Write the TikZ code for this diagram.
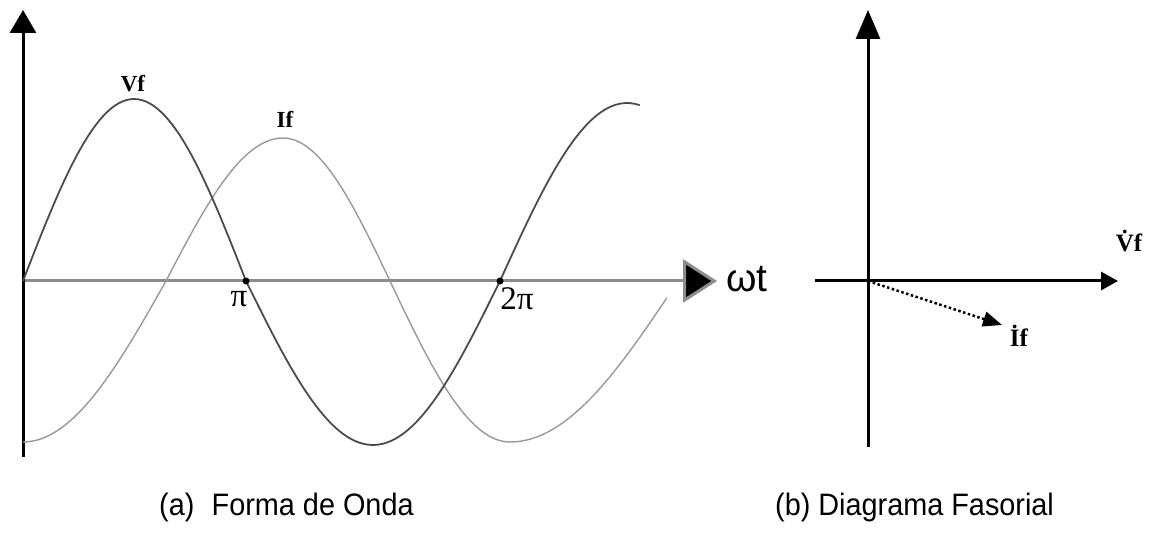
\documentclass[tikz,border=0pt]{standalone}
\usepackage{fontspec}
\setmainfont{Liberation Serif}
\newfontfamily\capfont{Liberation Sans}
\usetikzlibrary{arrows.meta}
\tikzset{
  axisblk/.style={line width=3pt, black},
  axisgray/.style={line width=3pt, black!45},
  vcurve/.style={line width=1.8pt, black!70},
  icurve/.style={line width=1.4pt, black!40},
  wlabel/.style={font=\fontsize{23}{23}\selectfont\bfseries, inner sep=0pt},
  plabel/.style={font=\fontsize{25}{25}\selectfont\bfseries, inner sep=0pt},
  pilabel/.style={font=\fontsize{33}{33}\selectfont, inner sep=0pt},
  caption/.style={font=\capfont\fontsize{31}{31}\selectfont, inner sep=0pt, xscale=0.93},
}
\begin{document}
\begin{tikzpicture}[x=1pt,y=-1pt]
\useasboundingbox (0,0) rectangle (1151,537);
% ---------- (a) waveform ----------
\coordinate (O) at (23,281);
\coordinate (ytop) at (23,10);
\coordinate (ybot) at (23,457);
\coordinate (xend) at (717,281);
\draw[axisgray, -{Triangle[length=34pt,width=43pt,fill=black]}] (O) -- (xend);
\draw[axisblk, -{Triangle[length=23pt,width=26pt]}] (ybot) -- (ytop);
% If curve
\draw[icurve]
  plot[domain=0:90,samples=30] ({23+143*\x/90},{281+161*cos(\x)})
  -- plot[domain=0:90,samples=30] ({166+117*\x/90},{281-143*sin(\x)})
  -- plot[domain=0:90,samples=30] ({283+107*\x/90},{281-143*cos(\x)})
  -- plot[domain=0:90,samples=30] ({390+120*\x/90},{281+161*sin(\x)})
  -- plot[domain=0:84,samples=30] ({510+168*\x/90},{281+161*cos(\x)});
% Vf curve
\draw[vcurve]
  plot[domain=0:90,samples=30] ({23+111*\x/90},{281-182*sin(\x)})
  -- plot[domain=0:90,samples=30] ({134+112*\x/90},{281-182*cos(\x)})
  -- plot[domain=0:90,samples=30] ({246+127*\x/90},{281+164*sin(\x)})
  -- plot[domain=0:90,samples=30] ({373+127*\x/90},{281+164*cos(\x)})
  -- plot[domain=0:99,samples=30] ({500+127*\x/90},{281-178*sin(\x)});
\coordinate (pi1) at (246,281);
\coordinate (pi2) at (500,281);
\fill (pi1) circle (3.5);
\fill (pi2) circle (3.5);
\node[pilabel] (lpi) at (239,299) {π};
\node[pilabel] (l2pi) at (517,299) {2π};
\node[wlabel] (lvf) at (133,84) {Vf};
\node[wlabel] (lif) at (285,119) {If};
\node[font=\capfont\fontsize{39}{39}\selectfont, inner sep=0pt, anchor=west] (lwt) at (726,279) {ωt};
% ---------- (b) phasor ----------
\coordinate (P) at (868,281);
\coordinate (ptop) at (868,10);
\coordinate (pbot) at (868,447);
\coordinate (pleft) at (815,281);
\coordinate (pright) at (1118,281);
\coordinate (ptip) at (1002,325);
\draw[axisblk, -{Triangle[length=17pt,width=18pt]}] (pleft) -- (pright);
\draw[axisblk, -{Triangle[length=29pt,width=24pt]}] (pbot) -- (ptop);
\draw[line width=2.5pt, dash pattern=on 2.5pt off 2.5pt, -{Triangle[length=19pt,width=15pt]}] (P) -- (ptip);
\node[plabel] (pvf) at (1129,241) {\.{V}f};
\node[plabel] (pif) at (1019,336) {\.{I}f};
% ---------- captions ----------
\node[caption, anchor=west] (ca) at (159,507) {(a)\hspace{0.6em}Forma de Onda};
\node[caption, anchor=west] (cb) at (775,507) {(b) Diagrama Fasorial};
\end{tikzpicture}
\end{document}
